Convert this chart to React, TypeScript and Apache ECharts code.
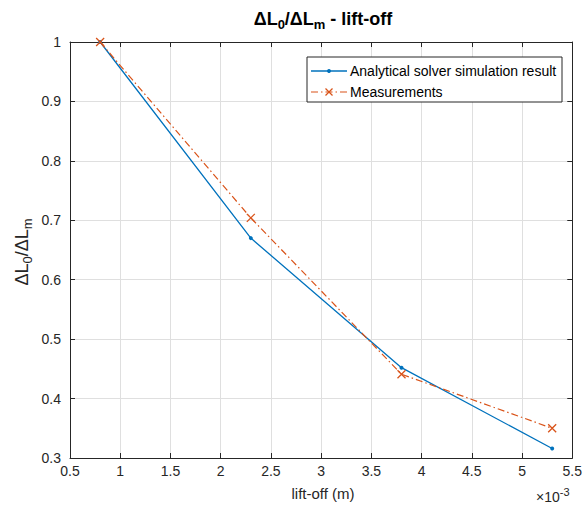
import React, { useEffect, useRef } from "react";
import * as echarts from "echarts";

const liftOff = [0.8, 2.3, 3.8, 5.3];
const analytical = [1.0, 0.67, 0.452, 0.316];
const measurements = [1.0, 0.704, 0.441, 0.35];
const seriesNames = ["Analytical solver simulation result", "Measurements"];

const FONT = "'Liberation Sans', Arial, Helvetica, sans-serif";
const TXT = "#262626";
const BLUE = "#0072BD";
const ORANGE = "#D95319";
const DASHDOT = [7, 3, 1.5, 3];

export default function App() {
  const ref = useRef<HTMLDivElement>(null);
  useEffect(() => {
    document.body.style.margin = "0";
    const chart = echarts.init(ref.current!, null, { renderer: "svg" });
    const axisCommon = {
      type: "value" as const,
      axisLine: { show: true, lineStyle: { color: TXT, width: 1 } },
      axisTick: { show: true, inside: true, length: 5, lineStyle: { color: TXT } },
    };
    const lx = 307, ly = 57, lw = 255, lh = 45;
    const r1 = 71, r2 = 92;
    chart.setOption({
      animation: false,
      backgroundColor: "#fff",
      textStyle: { fontFamily: FONT },
      grid: { left: 70, right: 8, top: 42, bottom: 56, containLabel: false },
      xAxis: [
        {
          ...axisCommon,
          min: 0.5,
          max: 5.5,
          interval: 0.5,
          position: "bottom",
          axisLabel: { color: TXT, fontSize: 14, margin: 6, fontFamily: FONT },
          splitLine: { show: true, lineStyle: { color: "#dfdfdf", width: 1 } },
        },
        {
          ...axisCommon,
          min: 0.5,
          max: 5.5,
          interval: 0.5,
          position: "top",
          axisLabel: { show: false },
          splitLine: { show: false },
        },
      ],
      yAxis: [
        {
          ...axisCommon,
          min: 0.3,
          max: 1,
          interval: 0.1,
          position: "left",
          axisLabel: { color: TXT, fontSize: 14, margin: 9, fontFamily: FONT },
          splitLine: { show: true, lineStyle: { color: "#dfdfdf", width: 1 } },
        },
        {
          ...axisCommon,
          min: 0.3,
          max: 1,
          interval: 0.1,
          position: "right",
          axisLabel: { show: false },
          splitLine: { show: false },
        },
      ],
      series: [
        {
          name: seriesNames[0],
          type: "line",
          data: liftOff.map((x, i) => [x, analytical[i]]),
          symbol: "circle",
          symbolSize: 4,
          color: BLUE,
          itemStyle: { color: BLUE },
          lineStyle: { color: BLUE, width: 1.3 },
          z: 3,
        },
        {
          name: seriesNames[1],
          type: "line",
          data: liftOff.map((x, i) => [x, measurements[i]]),
          symbol: "path://M0,0L10,10M10,0L0,10",
          symbolSize: 8,
          color: ORANGE,
          itemStyle: { color: "none", borderColor: ORANGE, borderWidth: 1.3 },
          lineStyle: { color: ORANGE, width: 1.2, type: DASHDOT },
          z: 4,
        },
      ],
      graphic: [
        // legend
        {
          type: "rect",
          shape: { x: lx, y: ly, width: lw, height: lh },
          style: { fill: "#fff", stroke: TXT, lineWidth: 1 },
          z: 100,
        },
        {
          type: "line",
          shape: { x1: lx + 4, y1: r1, x2: lx + 40, y2: r1 },
          style: { stroke: BLUE, lineWidth: 1.3 },
          z: 101,
        },
        {
          type: "circle",
          shape: { cx: lx + 22, cy: r1, r: 2 },
          style: { fill: BLUE },
          z: 101,
        },
        {
          type: "text",
          x: lx + 43,
          y: r1,
          style: { text: seriesNames[0], fontSize: 14, fontFamily: FONT, fill: "#000", verticalAlign: "middle" },
          z: 101,
        },
        {
          type: "line",
          shape: { x1: lx + 4, y1: r2, x2: lx + 40, y2: r2 },
          style: { stroke: ORANGE, lineWidth: 1.2, lineDash: DASHDOT },
          z: 101,
        },
        {
          type: "line",
          shape: { x1: lx + 18.5, y1: r2 - 3.5, x2: lx + 25.5, y2: r2 + 3.5 },
          style: { stroke: ORANGE, lineWidth: 1.3 },
          z: 101,
        },
        {
          type: "line",
          shape: { x1: lx + 25.5, y1: r2 - 3.5, x2: lx + 18.5, y2: r2 + 3.5 },
          style: { stroke: ORANGE, lineWidth: 1.3 },
          z: 101,
        },
        {
          type: "text",
          x: lx + 43,
          y: r2,
          style: { text: seriesNames[1], fontSize: 14, fontFamily: FONT, fill: "#000", verticalAlign: "middle" },
          z: 101,
        },
        // title
        {
          type: "text",
          x: 323,
          y: 19,
          style: {
            text: "{b|ΔL}{s|0}{b|/ΔL}{s|m}{b| - lift-off}",
            align: "center",
            verticalAlign: "middle",
            fill: "#000",
            rich: {
              b: { fontSize: 18, fontWeight: "bold", fontFamily: FONT, lineHeight: 24, fill: "#000" },
              s: { fontSize: 13, fontWeight: "bold", fontFamily: FONT, lineHeight: 12, verticalAlign: "bottom", fill: "#000" },
            },
          },
        },
        // y label
        {
          type: "text",
          x: 22,
          y: 252,
          rotation: Math.PI / 2,
          style: {
            text: "{b|ΔL}{s|0}{b|/ΔL}{s|m}",
            align: "center",
            verticalAlign: "middle",
            fill: TXT,
            rich: {
              b: { fontSize: 18, fontFamily: FONT, lineHeight: 24, fill: TXT },
              s: { fontSize: 13, fontFamily: FONT, lineHeight: 12, verticalAlign: "bottom", fill: TXT },
            },
          },
        },
        {
          type: "text",
          x: 323,
          y: 493,
          style: {
            text: "lift-off (m)",
            align: "center",
            verticalAlign: "middle",
            fontSize: 15,
            fontFamily: FONT,
            fill: TXT,
          },
        },
        {
          type: "text",
          x: 536,
          y: 497,
          style: {
            text: "{n|×10}{p|-3}",
            align: "left",
            verticalAlign: "middle",
            fill: TXT,
            rich: {
              n: { fontSize: 14, fontFamily: FONT, lineHeight: 22, fill: TXT },
              p: { fontSize: 11, fontFamily: FONT, lineHeight: 11, verticalAlign: "top", fill: TXT },
            },
          },
        },
      ],
    });
    return () => chart.dispose();
  }, []);
  return <div ref={ref} style={{ width: 585, height: 514 }} />;
}
